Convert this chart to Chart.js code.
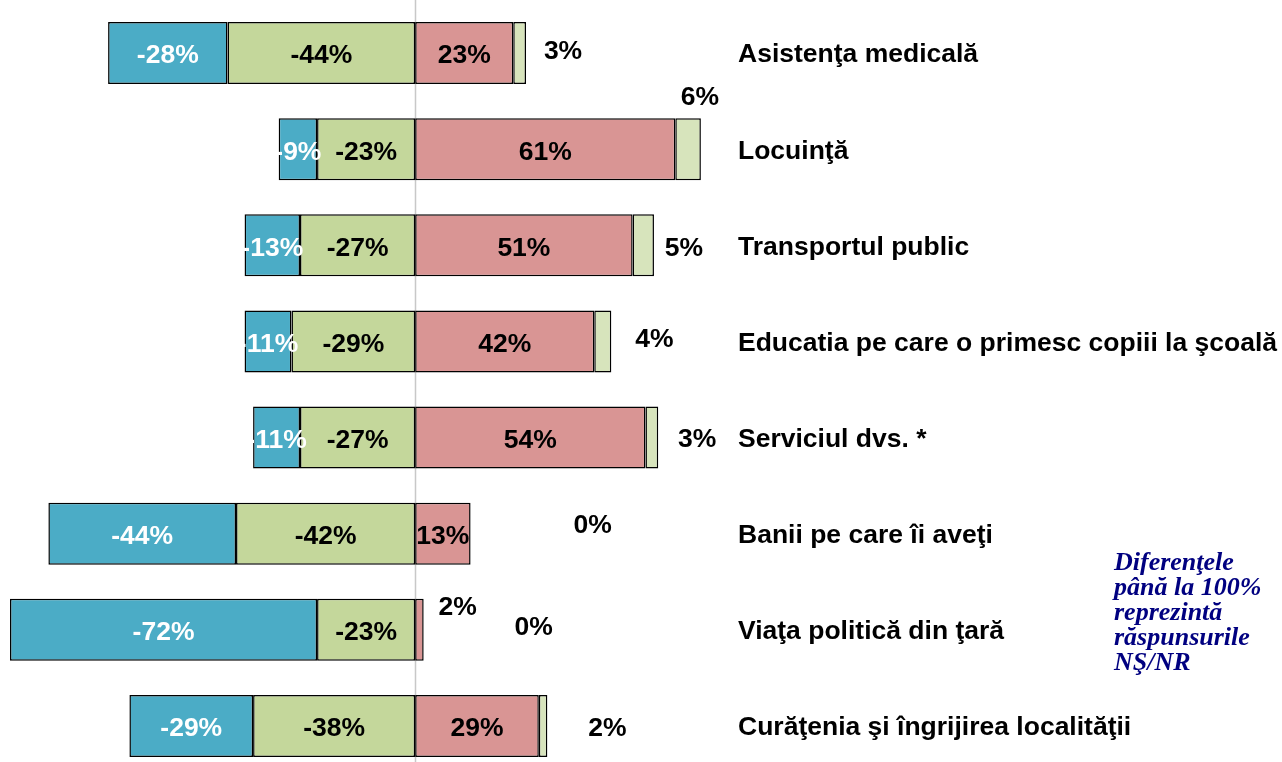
<!DOCTYPE html>
<html>
<head>
<meta charset="utf-8">
<script src="https://cdn.jsdelivr.net/npm/chart.js@4.4.1/dist/chart.umd.min.js"></script>
<style>
  html, body { margin: 0; padding: 0; background: #fff; overflow: hidden; }
  #wrap { position: relative; width: 1282px; height: 762px; overflow: hidden; }
  #note {
    position: absolute; left: 1114px; top: 549px;
    font-family: "Liberation Serif", "Times New Roman", serif;
    font-weight: bold; font-style: italic; font-size: 26px; line-height: 25px;
    color: #000080;
  }
</style>
</head>
<body>
<div id="wrap">
  <canvas id="chart" width="1282" height="780"></canvas>
  <div id="note">Diferenţele<br>până la 100%<br>reprezintă<br>răspunsurile<br>NŞ/NR</div>
</div>
<script>
  // Date
  const categories = [
    'Asistenţa medicală',
    'Locuinţă',
    'Transportul public',
    'Educatia pe care o primesc copiii la şcoală',
    'Serviciul dvs. *',
    'Banii pe care îi aveţi',
    'Viaţa politică din ţară',
    'Curăţenia şi îngrijirea localităţii'
  ];
  const veryBad = [-28, -9, -13, -11, -11, -44, -72, -29];
  const bad = [-44, -23, -27, -29, -27, -42, -23, -38];
  const good = [23, 61, 51, 42, 54, 13, 2, 29];
  const veryGood = [3, 6, 5, 4, 3, 0, 0, 2];

  // etichete afișate în afara barelor (deplasare în pixeli față de capătul din dreapta al barei)
  const outsideLabels = [
    { ds: 3, row: 0, dx: 37, dy: -3 },
    { ds: 3, row: 1, dx: -1, dy: -54 },
    { ds: 3, row: 2, dx: 30, dy: 1 },
    { ds: 3, row: 3, dx: 43, dy: -4 },
    { ds: 3, row: 4, dx: 39, dy: 0 },
    { ds: 3, row: 5, dx: 122, dy: -10 },
    { ds: 2, row: 6, dx: 34, dy: -24 },
    { ds: 3, row: 6, dx: 110, dy: -4 },
    { ds: 3, row: 7, dx: 60, dy: 1 }
  ];

  const FONT = 'bold 26.5px "Liberation Sans", Arial, sans-serif';

  const zeroLine = {
    id: 'zeroLine',
    beforeDatasetsDraw(chart) {
      const ctx = chart.ctx;
      const x = Math.round(chart.scales.x.getPixelForValue(0)) + 0.5;
      ctx.save();
      ctx.strokeStyle = '#c8c8c8';
      ctx.lineWidth = 1.5;
      ctx.beginPath();
      ctx.moveTo(x, 0);
      ctx.lineTo(x, chart.height);
      ctx.stroke();
      ctx.restore();
    }
  };

  const valueLabels = {
    id: 'valueLabels',
    afterDatasetsDraw(chart) {
      const ctx = chart.ctx;
      const xScale = chart.scales.x;
      ctx.save();
      ctx.font = FONT;
      ctx.textAlign = 'center';
      ctx.textBaseline = 'middle';
      const isOutside = (ds, row) => outsideLabels.some(o => o.ds === ds && o.row === row);

      chart.data.datasets.forEach((dataset, di) => {
        const meta = chart.getDatasetMeta(di);
        meta.data.forEach((bar, i) => {
          if (isOutside(di, i)) return;
          const v = dataset.data[i];
          ctx.fillStyle = dataset.textColor;
          ctx.fillText(v + '%', (bar.x + bar.base) / 2, bar.y + 3);
        });
      });

      outsideLabels.forEach(o => {
        const bar = chart.getDatasetMeta(o.ds).data[o.row];
        const end = xScale.getPixelForValue(good[o.row] + veryGood[o.row]);
        ctx.fillStyle = '#000';
        ctx.fillText(chart.data.datasets[o.ds].data[o.row] + '%', end + o.dx, bar.y + o.dy + 2);
      });
      ctx.restore();
    }
  };

  const ctx = document.getElementById('chart').getContext('2d');
  new Chart(ctx, {
    type: 'bar',
    data: {
      labels: categories,
      datasets: [
        { label: 'bad', data: bad, backgroundColor: '#c4d79b', textColor: '#000' },
        { label: 'veryBad', data: veryBad, backgroundColor: '#4bacc6', textColor: '#fff' },
        { label: 'good', data: good, backgroundColor: '#d99594', textColor: '#000' },
        { label: 'veryGood', data: veryGood, backgroundColor: '#d7e4bc', textColor: '#000' }
      ].map(d => Object.assign(d, {
        borderColor: '#000',
        borderWidth: 1.5,
        borderSkipped: false,
        barPercentage: 0.645,
        categoryPercentage: 1
      }))
    },
    options: {
      indexAxis: 'y',
      responsive: false,
      animation: false,
      layout: { padding: { left: 10, top: 5, bottom: 6, right: 0 } },
      plugins: {
        legend: { display: false },
        tooltip: { enabled: false }
      },
      scales: {
        x: {
          stacked: true,
          min: -95,
          max: 75,
          display: false
        },
        y: {
          stacked: true,
          position: 'right',
          offset: true,
          border: { display: false },
          grid: { display: false, drawTicks: false },
          afterFit(scale) {
            scale.width = 547;
            scale.paddingTop = 0;
            scale.paddingBottom = 0;
          },
          ticks: {
            color: '#000',
            padding: 3,
            labelOffset: 2,
            crossAlign: 'near',
            font: { family: '"Liberation Sans", Arial, sans-serif', size: 26.5, weight: 'bold' }
          }
        }
      }
    },
    plugins: [zeroLine, valueLabels]
  });
</script>
</body>
</html>
